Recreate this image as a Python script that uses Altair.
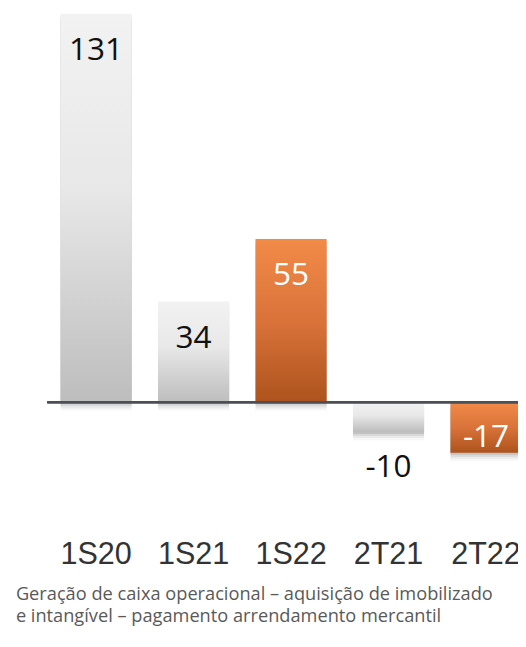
import altair as alt
import pandas as pd

categories = ["1S20", "1S21", "1S22", "2T21", "2T22"]
values = [131, 34, 55, -10, -17]
current = [False, False, True, False, True]
caption = [
    "Geração de caixa operacional – aquisição de imobilizado",
    "e intangível – pagamento arrendamento mercantil",
]

df = pd.DataFrame({"cat": categories, "value": values, "current": current})

gray_grad = alt.LinearGradient(
    gradient="linear",
    stops=[
        alt.GradientStop(color="#f2f2f2", offset=0),
        alt.GradientStop(color="#e8e8e8", offset=0.45),
        alt.GradientStop(color="#bdbdbd", offset=1),
    ],
    x1=0, x2=0, y1=0, y2=1,
)
orange_grad = alt.LinearGradient(
    gradient="linear",
    stops=[
        alt.GradientStop(color="#f28a48", offset=0),
        alt.GradientStop(color="#d9733a", offset=0.5),
        alt.GradientStop(color="#ad531d", offset=1),
    ],
    x1=0, x2=0, y1=0, y2=1,
)

x_enc = alt.X(
    "cat:N",
    sort=categories,
    scale=alt.Scale(domain=categories, range=[0, 495], paddingInner=0.27, paddingOuter=0.135),
    axis=alt.Axis(
        domain=False, ticks=False, tickSize=0, grid=False, labelAngle=0,
        labelFont="Liberation Sans", labelFontSize=31, labelColor="#333333",
        labelPadding=19.5, labelOverlap=False, title=None,
    ),
)
yscale = alt.Scale(domain=[-40, 131.3], nice=False, zero=True)
y_enc = alt.Y("value:Q", scale=yscale, axis=None)

base = alt.Chart(df).transform_calculate(lbl="toString(datum.value)").encode(x=x_enc, y=y_enc)

shadows = [
    alt.Chart(df)
    .transform_calculate(s_top=f"datum.value - {d}", s_bot=f"{-d}")
    .mark_bar(color="#000000", opacity=op)
    .encode(x=x_enc, y=alt.Y("s_top:Q", scale=yscale, axis=None), y2="s_bot:Q")
    for d, op in [(0.7, 0.10), (1.4, 0.07), (2.1, 0.05), (2.8, 0.03)]
]

gray_bars = base.transform_filter("!datum.current").mark_bar(color=gray_grad)
orange_bars = base.transform_filter("datum.current").mark_bar(color=orange_grad)

zero_line = alt.Chart(df).mark_rule(color="#4b5057", strokeWidth=2).encode(
    y=alt.YDatum(0, scale=yscale, axis=None)
)

txt = dict(font="Open Sans", fontSize=32, align="center", baseline="alphabetic")
lab_pos_gray = base.transform_filter("datum.value > 0 && !datum.current").mark_text(color="#111111", dy=47, **txt).encode(text="lbl:N")
lab_pos_or = base.transform_filter("datum.value > 0 && datum.current").mark_text(color="#ffffff", dy=47, **txt).encode(text="lbl:N")
lab_neg_gray = base.transform_filter("datum.value < 0 && !datum.current").mark_text(color="#111111", dy=46, **txt).encode(text="lbl:N")
lab_neg_or = base.transform_filter("datum.value < 0 && datum.current").mark_text(color="#ffffff", dy=-6, **txt).encode(text="lbl:N")

chart = alt.layer(
    *shadows, gray_bars, orange_bars, zero_line,
    lab_pos_gray, lab_pos_or, lab_neg_gray, lab_neg_or,
).properties(
    width=478, height=516,
    padding={"left": 40, "top": 0, "right": 0, "bottom": 108},
    autosize=alt.AutoSizeParams(type="none"),
    background="white",
    title=alt.TitleParams(
        text=caption, orient="bottom", anchor="start", frame="group",
        font="Open Sans", fontSize=18.5, fontWeight="normal", color="#595959",
        baseline="top", lineHeight=22, dx=-32, offset=16,
    ),
).configure_view(stroke=None)

chart.save("out.html", embed_options={"renderer": "svg", "actions": False})
